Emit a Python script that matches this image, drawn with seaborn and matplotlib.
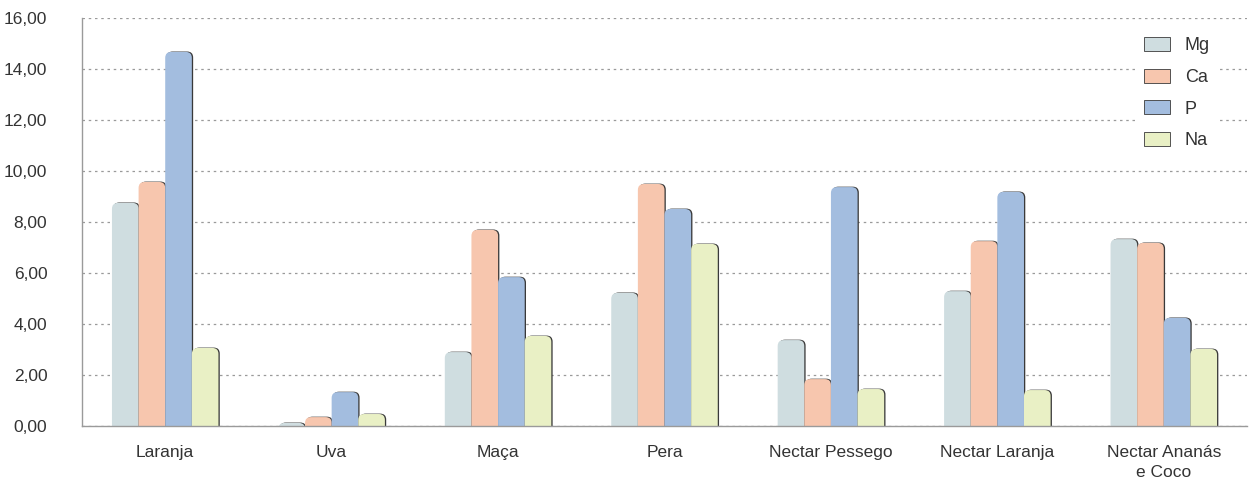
import seaborn as sns
import matplotlib.pyplot as plt
import matplotlib.transforms as mtransforms
from matplotlib.patches import FancyBboxPatch, Patch
from matplotlib.ticker import FuncFormatter, FixedLocator
import pandas as pd

# dados
categorias = ["Laranja", "Uva", "Maça", "Pera", "Nectar Pessego", "Nectar Laranja", "Nectar Ananás\ne Coco"]
mg = [8.75, 0.12, 2.90, 5.22, 3.37, 5.29, 7.33]
ca = [9.57, 0.35, 7.69, 9.49, 1.84, 7.25, 7.18]
p = [14.67, 1.33, 5.84, 8.51, 9.37, 9.18, 4.24]
na = [3.06, 0.47, 3.53, 7.14, 1.45, 1.41, 3.02]
series = ["Mg", "Ca", "P", "Na"]
cores = ["#cfdde0", "#f7c6ae", "#a3bddf", "#e9f0c5"]

df = pd.DataFrame({
    "categoria": categorias * 4,
    "serie": [s for s in series for _ in categorias],
    "valor": mg + ca + p + na,
})

sns.set_style("white")
plt.rcParams["font.family"] = ["Liberation Sans", "DejaVu Sans"]

fig = plt.figure(figsize=(12.51, 4.84), dpi=100)
ax = fig.add_axes([82 / 1251, 1 - 426 / 484, 1165 / 1251, 408 / 484])

sns.barplot(data=df, x="categoria", y="valor", hue="serie", palette=cores,
            width=0.64, ax=ax, legend=False, saturation=1)

# trocar barras por barras arredondadas com sombra
rx = 6 / 166.5
aspect = 166.5 / 25.5
sombra = mtransforms.offset_copy(ax.transData, fig=fig, x=1.3, y=0.4, units="dots")
for bar in list(ax.patches):
    x, w, h = bar.get_x(), bar.get_width(), bar.get_height()
    cor = bar.get_facecolor()
    bar.remove()
    for trans, fc, z in [(sombra, "#3a3a3a", 2), (ax.transData, cor, 3)]:
        fb = FancyBboxPatch((x, -0.5), w, h + 0.5,
                            boxstyle=f"round,pad=0,rounding_size={rx}",
                            mutation_aspect=aspect, facecolor=fc, edgecolor="none",
                            transform=trans, zorder=z, clip_on=True)
        ax.add_patch(fb)

ax.set_ylim(0, 16)
ax.set_xlim(-0.5, 6.5)
ax.set_yticks(range(0, 17, 2))
ax.yaxis.set_major_formatter(FuncFormatter(lambda v, pos: f"{v:.2f}".replace(".", ",")))
ax.yaxis.grid(True, linestyle=(0, (2, 3)), color="#9a9a9a", linewidth=0.9)
ax.set_axisbelow(True)

ax.xaxis.set_minor_locator(FixedLocator([i - 0.5 for i in range(8)]))
ax.tick_params(axis="x", which="major", length=0, pad=14, labelsize=12.5, labelcolor="#333333")
ax.tick_params(axis="x", which="minor", length=17, color="#9a9a9a", width=1)
ax.tick_params(axis="y", length=10, color="#9a9a9a", width=1, labelsize=12.5, labelcolor="#333333", pad=15)
for t in ax.get_xticklabels():
    t.set_linespacing(1.35)
ax.set_xlabel("")
ax.set_ylabel("")

for s in ["top", "right"]:
    ax.spines[s].set_visible(False)
for s in ["left", "bottom"]:
    ax.spines[s].set_color("#9a9a9a")
    ax.spines[s].set_linewidth(1)
ax.spines["bottom"].set_zorder(5)

handles = [Patch(facecolor=c, edgecolor="#3a3a3a", linewidth=0.6, label=s) for c, s in zip(cores, series)]
leg = ax.legend(handles=handles, loc="upper right", bbox_to_anchor=(0.982, 0.993), frameon=True,
                facecolor="white", edgecolor="none", framealpha=1, fontsize=13,
                handlelength=1.45, handleheight=0.8, labelspacing=0.8, handletextpad=0.8, borderpad=0.4)
for t in leg.get_texts():
    t.set_color("#333333")

fig.savefig("out.png", dpi=100)
